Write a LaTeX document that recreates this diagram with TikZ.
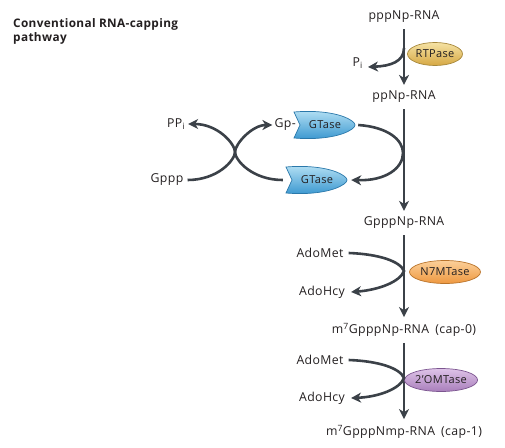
\documentclass[tikz,border=0pt]{standalone}
\usepackage{fontspec}
\setmainfont{Open Sans}[LetterSpace=3]
\usetikzlibrary{arrows.meta,shapes.geometric,backgrounds,positioning}
\definecolor{arrowgray}{HTML}{3B4148}
\definecolor{txt}{HTML}{231F20}
\definecolor{rtpL}{HTML}{F5E2A4}\definecolor{rtpM}{HTML}{D6A843}\definecolor{rtpD}{HTML}{A6873A}
\definecolor{nsL}{HTML}{FCD09A}\definecolor{nsM}{HTML}{EE9840}\definecolor{nsD}{HTML}{B9742C}
\definecolor{omL}{HTML}{DEC3E8}\definecolor{omM}{HTML}{A97EBB}\definecolor{omD}{HTML}{7C5690}
\definecolor{gtL}{HTML}{B4E0F4}\definecolor{gtM}{HTML}{3896CF}\definecolor{gtD}{HTML}{2A78AA}
%notched GTase body behind a node
\newcommand{\gtshape}[1]{%
  \begin{scope}[on background layer, shift={(#1.center)}]
    \path[gtfill] (-31,-13) .. controls (-28,-6) .. (-25,0) .. controls (-28,6) .. (-31,13)
      .. controls (-8,15) and (16,12) .. (27,4) .. controls (31,1) and (31,-1) .. (27,-4)
      .. controls (16,-12) and (-8,-15) .. cycle;
  \end{scope}}
\begin{document}
\begin{tikzpicture}[x=1pt,y=-1pt,
  lab/.style={text=txt, font=\fontsize{12.3}{14}\selectfont, inner sep=1pt},
  flow/.style={draw=arrowgray, line width=2.6pt, -{Stealth[length=10pt,width=10pt,inset=3pt]}},
  mainflow/.style={flow, shorten <=5pt, shorten >=5pt},
  enz/.style={lab, font=\fontsize{11}{12}\selectfont, ellipse, line width=0.7pt, inner sep=0pt, minimum height=23pt},
  rtpenz/.style={enz, draw=rtpD, top color=rtpL, bottom color=rtpM, minimum width=55pt},
  nsenz/.style={enz, draw=nsD, top color=nsL, bottom color=nsM, minimum width=71pt},
  omenz/.style={enz, draw=omD, top color=omL, bottom color=omM, minimum width=66pt},
  gtbox/.style={lab, font=\fontsize{11}{12}\selectfont, minimum width=60pt, minimum height=25pt},
  gtfill/.style={draw=gtD, line width=0.7pt, top color=gtL, bottom color=gtM}]
\useasboundingbox (0,0) rectangle (505,447);
%title
\node[lab, font=\bfseries\fontsize{11.8}{14}\selectfont, anchor=north west, align=left] (title) at (12,17) {Conventional RNA-capping\\pathway};
%main line
\node[lab] (s0) at (404,17) {pppNp-RNA};
\node[lab] (s1) at (404,97) {ppNp-RNA};
\node[lab] (s2) at (404,223) {GpppNp-RNA};
\node[lab] (s3) at (404,330) {m\textsuperscript{7}GpppNp-RNA\enspace(cap-0)};
\node[lab] (s4) at (404,432) {m\textsuperscript{7}GpppNmp-RNA\enspace(cap-1)};
\draw[mainflow] (s0) -- (s1);
\draw[mainflow] (s1) -- (s2);
\draw[mainflow] (s2) -- (s3);
\draw[mainflow] (s3) -- (s4);
%first
\node[rtpenz] (rtp) at (435,54) {RTPase};
\node[lab, anchor=east] (pi) at (364,63) {P\textsubscript{i}};
\coordinate (j0) at (404,48);
\draw[flow] (j0) .. controls (404,62) and (390,66) .. ([shift={(4pt,-4pt)}]pi.east);
%second
\node[gtbox] (gt1) at (325,125) {GTase};
\node[lab, anchor=east] (gp) at (297,125) {Gp-};
\node[gtbox] (gt2) at (317,180) {GTase};
\gtshape{gt1}
\gtshape{gt2}
\node[lab] (ppi) at (176,124) {PP\textsubscript{i}};
\node[lab] (gppp) at (167,180) {Gppp};
\coordinate (x0) at (235,152);
\draw[flow] ([xshift=3pt]gppp.east) .. controls (218,180) and (235,160) .. (x0) .. controls (235,144) and (252,125) .. ([xshift=-1pt]gp.west);
\draw[flow] ([xshift=-4pt]gt2.west) .. controls (252,180) and (235,160) .. (x0) .. controls (235,144) and (218,124) .. ([xshift=2pt]ppi.east);
\draw[flow] ([xshift=3pt]gt1.east) .. controls (388,127) and (403,140) .. (403,153) .. controls (403,168) and (386,181) .. ([xshift=4pt]gt2.east);
%third
\node[nsenz] (ns) at (445,272) {N7MTase};
\node[lab] (met1) at (320,253) {AdoMet};
\node[lab] (hcy1) at (322,292) {AdoHcy};
\coordinate (j2) at (404,271);
\draw[flow] ([xshift=4pt]met1.east) .. controls (378,254) and (400,261) .. (j2) .. controls (400,282) and (378,290) .. ([xshift=5pt]hcy1.east);
%last
\node[omenz] (om) at (441,380) {2'OMTase};
\node[lab] (met2) at (320,360) {AdoMet};
\node[lab] (hcy2) at (322,398) {AdoHcy};
\coordinate (j3) at (404,378);
\draw[flow] ([xshift=4pt]met2.east) .. controls (378,361) and (400,368) .. (j3) .. controls (400,389) and (378,397) .. ([xshift=5pt]hcy2.east);
\end{tikzpicture}
\end{document}
